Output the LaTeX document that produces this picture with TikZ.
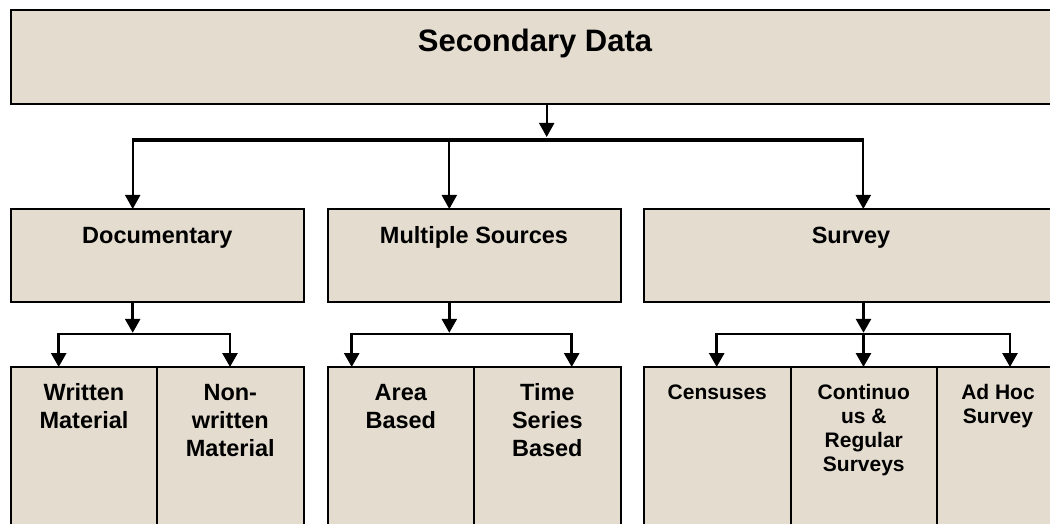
\documentclass[tikz,border=0pt]{standalone}
\usepackage{fontspec}
\setmainfont{Liberation Sans}
\usetikzlibrary{arrows.meta,fit}
\definecolor{boxfill}{RGB}{227,220,207}
\begin{document}
\begin{tikzpicture}[x=1pt,y=1pt,
  box/.style={draw=black, line width=2pt, fill=boxfill, inner sep=0pt, outer sep=0pt},
  bigtext/.style={font=\fontsize{31}{37}\selectfont\bfseries, inner sep=0pt, anchor=base},
  midtext/.style={font=\fontsize{23.5}{28}\selectfont\bfseries, inner sep=0pt, anchor=base, align=center},
  smalltext/.style={font=\fontsize{21}{24}\selectfont\bfseries, inner sep=0pt, anchor=base, align=center},
  connA/.style={line width=2pt, -{Triangle[width=15pt,length=14pt]}},
  barA/.style={line width=4pt},
  connB/.style={line width=2.8pt, -{Triangle[width=15pt,length=14pt]}},
]
\useasboundingbox (0,0) rectangle (1050,-524);
\clip (0,0) rectangle (1050,-524);

% boxes
\node[box, fit={(10.5,-10.5)(1059,-104)}] (top) {};
\node[box, fit={(11,-209)(303.5,-302)}] (doc) {};
\node[box, fit={(327.5,-209)(620.5,-302)}] (ms) {};
\node[box, fit={(644,-209)(1058,-302)}] (sv) {};
\node[box, fit={(11,-367)(157,-545)}] (wm) {};
\node[box, fit={(157,-367)(303.5,-545)}] (nw) {};
\node[box, fit={(327.5,-367)(474,-545)}] (ab) {};
\node[box, fit={(474,-367)(620.5,-545)}] (ts) {};
\node[box, fit={(644,-367)(790.5,-545)}] (ce) {};
\node[box, fit={(790.5,-367)(937,-545)}] (cr) {};
\node[box, fit={(937,-367)(1059,-545)}] (ah) {};

% texts (base anchor = baseline of the last line)
\node[bigtext] (t-top) at (535,-52) {Secondary Data};
\node[midtext] (t-doc) at (157.3,-243) {Documentary};
\node[midtext] (t-ms) at (474,-243) {Multiple Sources};
\node[midtext] (t-sv) at (851,-243) {Survey};
\node[midtext] (t-wm) at (84,-428) {Written\\Material};
\node[midtext] (t-nw) at (230.3,-456) {Non-\\written\\Material};
\node[midtext] (t-ab) at (400.8,-428) {Area\\Based};
\node[midtext] (t-ts) at (547.3,-456) {Time\\Series\\Based};
\node[smalltext] (t-ce) at (717.3,-399) {Censuses};
\node[smalltext] (t-cr) at (863.8,-471) {Continuo\\us \&\\Regular\\Surveys};
\node[smalltext] (t-ah) at (998,-423) {Ad Hoc\\Survey};

% level 1 connectors
\coordinate (b0) at (546.7,-140);
\coordinate (bL) at (132.7,-140);
\coordinate (bM) at (449.3,-140);
\coordinate (bR) at (863.3,-140);
\draw[connA] (top.south -| b0) -- ([yshift=3pt]b0);
\draw[barA] ([xshift=-1pt]bL) -- ([xshift=1pt]bR);
\draw[connA] (bL) -- (bL |- doc.north);
\draw[connA] (bM) -- (bM |- ms.north);
\draw[connA] (bR) -- (bR |- sv.north);

% level 2: documentary
\coordinate (d0) at (132.7,-334);
\coordinate (dL) at (58.7,-334);
\coordinate (dR) at (230,-334);
\draw[connB] (doc.south -| d0) -- ([yshift=1.2pt]d0);
\draw[connB] (d0) -| (dL |- wm.north);
\draw[connB] (d0) -| (dR |- nw.north);

% level 2: multiple sources
\coordinate (m0) at (449.3,-334);
\coordinate (mL) at (351.7,-334);
\coordinate (mR) at (571.7,-334);
\draw[connB] (ms.south -| m0) -- ([yshift=1.2pt]m0);
\draw[connB] (m0) -| (mL |- ab.north);
\draw[connB] (m0) -| (mR |- ts.north);

% level 2: survey
\coordinate (s0) at (863.5,-334);
\coordinate (sL) at (716.7,-334);
\coordinate (sR) at (1010,-334);
\draw[connB] (sv.south -| s0) -- ([yshift=1.2pt]s0);
\draw[connB] (s0) -| (sL |- ce.north);
\draw[connB] (s0) -- (s0 |- cr.north);
\draw[connB] (s0) -| (sR |- ah.north);
\end{tikzpicture}
\end{document}
